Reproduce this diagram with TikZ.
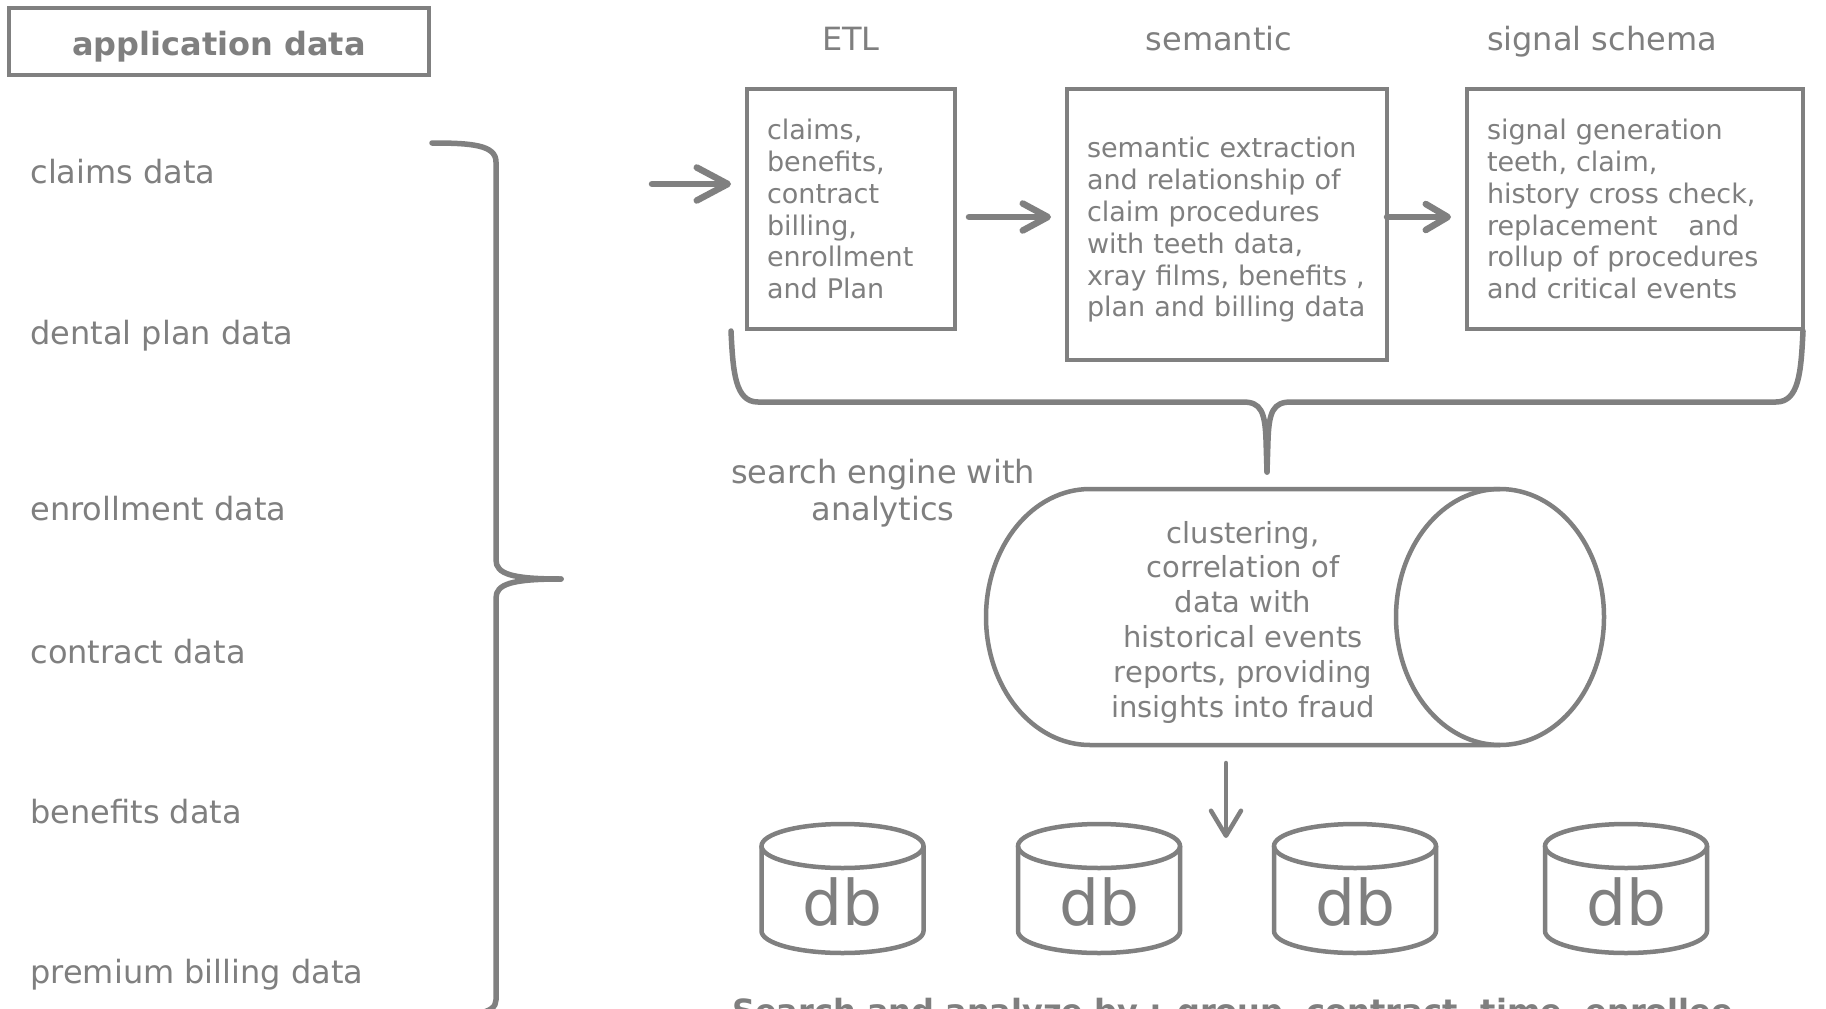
\documentclass[tikz,border=0pt]{standalone}
\usepackage{fontspec}
\setmainfont{DejaVu Sans}
\usetikzlibrary{arrows.meta}
\definecolor{ink}{HTML}{808080}
\definecolor{txt}{HTML}{7F7F7F}
\newcommand\fsLabel{\fontsize{32}{37}\selectfont}
\newcommand\fsBox{\fontsize{27}{31.9}\selectfont}
\newcommand\fsCyl{\fontsize{29}{34.8}\selectfont}
\newcommand\fsDb{\fontsize{63}{70}\selectfont}
\begin{document}
\begin{tikzpicture}[x=1pt,y=-1pt,
  every node/.style={inner sep=0pt,outer sep=0pt,text=txt},
  lbl/.style={anchor=base west,font=\fsLabel},
  head/.style={anchor=base,font=\fsLabel},
  stage/.style={draw=ink,line width=4.5pt,align=left,font=\fsBox,inner xsep=20pt},
  brace/.style={draw=ink,line width=5.5pt,line cap=round,line join=round},
  flow/.style={draw=ink,line width=6.5pt,line cap=round},
  shell/.style={draw=ink,line width=4.5pt},
]
\useasboundingbox (0,0) rectangle (1826,1009);
\fill[white] (0,0) rectangle (1826,1009);

% source list
\node[draw=ink,line width=4pt,minimum width=420pt,minimum height=67pt,font=\bfseries\fsLabel] (app) at (219,41.5) {\rule{0pt}{34pt}application data};
\node[lbl] (l1) at (30.5,183.5) {claims data};
\node[lbl] (l2) at (30.5,344.5) {dental plan data};
\node[lbl] (l3) at (30.5,520.5) {enrollment data};
\node[lbl] (l4) at (30.5,663.5) {contract data};
\node[lbl] (l5) at (30.5,823.5) {benefits data};
\node[lbl] (l6) at (30.5,983.5) {premium billing data};

% grouping brace of the sources
\draw[brace] (432,143) .. controls (472,143) and (496,145) .. (496,162) -- (496,560)
  .. controls (496,574) and (512,579) .. (561,579);
\draw[brace] (561,579) .. controls (512,579) and (496,584) .. (496,598) -- (496,1000)
  .. controls (496,1014) and (472,1016) .. (432,1016);

% pipeline stages
\node[head] (tEtl) at (851,50) {ETL};
\node[head] (tSem) at (1219,50) {semantic};
\node[head] (tSig) at (1602,50) {signal schema};

\node[stage,minimum width=208pt,minimum height=240pt,text width=168pt] (etl) at (851,209)
  {claims,\\benefits,\\contract\\billing,\\enrollment\\and Plan};
\node[stage,minimum width=320pt,minimum height=271pt,text width=280pt] (sem) at (1227,224.5)
  {\rule{0pt}{31pt}semantic extraction\\and relationship of\\claim procedures\\with teeth data,\\xray films, benefits ,\\plan and billing data};
\node[stage,minimum width=336pt,minimum height=240pt,text width=296pt] (sig) at (1635,209)
  {signal generation\\teeth, claim,\\history cross check,\\replacement\hspace{31pt}and\\rollup of procedures\\and critical events};

\coordinate (feed) at (652,184);
\coordinate (mid) at (0,217);
\draw[flow,-{Straight Barb[length=31pt,width=33pt,round]},shorten >=16pt] (feed) -- (feed -| etl.west);
\draw[flow,-{Straight Barb[length=25pt,width=27pt,round]},shorten <=14pt,shorten >=16pt] (etl.east |- mid) -- (sem.west |- mid);
\draw[flow,-{Straight Barb[length=22pt,width=26pt,round]},shorten >=16pt] (sem.east |- mid) -- (sig.west |- mid);

% brace gathering the stages
\draw[brace] (731,331) .. controls (733,372) and (735,402) .. (758,402) -- (1243,402)
  .. controls (1261,402) and (1265,412) .. (1266,440) -- (1267,472);
\draw[brace] (1803,331) .. controls (1801,372) and (1799,402) .. (1776,402) -- (1291,402)
  .. controls (1273,402) and (1269,412) .. (1268,440) -- (1267,472);

\node[align=center,font=\fsLabel] (se) at (883,493.5) {search engine with\\analytics};

% analytics engine drum
\draw[shell] (1500,489) -- (1090,489) arc[start angle=270,end angle=90,x radius=104,y radius=128] -- (1500,745);
\draw[shell] (1500,617) ellipse[x radius=104,y radius=128];
\node[align=center,font=\fsCyl] (eng) at (1243,622)
  {clustering,\\correlation of\\data with\\historical events\\reports, providing\\insights into fraud};

\coordinate (cylbot) at (1226,745);
\coordinate (dbgap) at (1226,838);
\draw[flow,line width=4.5pt,-{Straight Barb[length=25pt,width=30pt,round]},shorten <=18pt] (cylbot) -- (dbgap);

% data stores
\foreach \cx [count=\k] in {842.5,1099,1355,1626} {
  \draw[shell] (\cx-81,846) -- (\cx-81,931) arc[start angle=180,end angle=0,x radius=81,y radius=22] -- (\cx+81,846);
  \draw[shell] (\cx,846) ellipse[x radius=81,y radius=22];
  \node[anchor=base,font=\fsDb] (db\k) at (\cx,925) {db};
}

\node[anchor=base west,font=\bfseries\fsLabel] (query) at (732,1022)
  {Search and analyze by : group, contract, time, enrollee};
\end{tikzpicture}
\end{document}
